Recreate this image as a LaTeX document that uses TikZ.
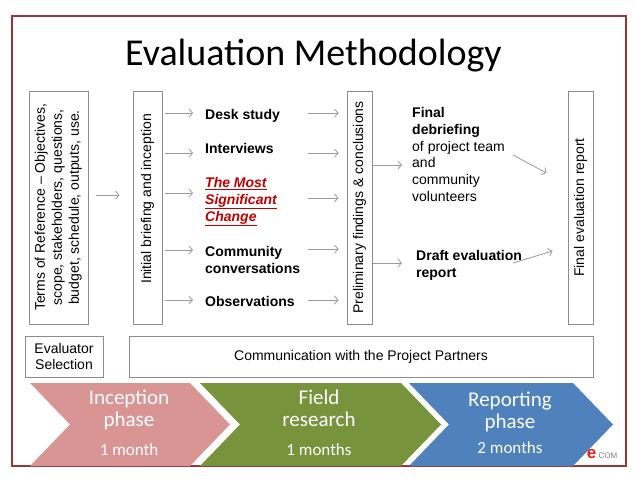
\documentclass[tikz,border=0pt]{standalone}
\usepackage{fontspec}
\setmainfont{Liberation Sans}
\newfontfamily\calfont{Carlito}
\usetikzlibrary{arrows.meta}
\definecolor{framered}{HTML}{953735}
\definecolor{boxgray}{HTML}{8C8C8C}
\definecolor{arrgray}{HTML}{9A9A9A}
\definecolor{msccol}{HTML}{C00000}
\definecolor{pinkc}{HTML}{D99594}
\definecolor{greenc}{HTML}{77933C}
\definecolor{bluec}{HTML}{4F81BD}
\definecolor{logored}{HTML}{E2231A}
\begin{document}
\begin{tikzpicture}[x=1pt,y=-1pt,
  box/.style={draw=boxgray, line width=1pt, inner sep=0pt, font=\fontsize{14}{17}\selectfont, align=center},
  txt/.style={font=\fontsize{14}{16.8}\selectfont, inner sep=0pt, align=left, anchor=base west},
  act/.style={txt, font=\fontsize{14}{16.8}\selectfont\bfseries},
  arr/.style={draw=arrgray, line width=0.8pt, -{Straight Barb[length=3.5pt,width=8pt]}},
  phasetxt/.style={font=\calfont\fontsize{21}{22}\selectfont, text=white, align=center, inner sep=0pt, anchor=base},
  monthtxt/.style={font=\calfont\fontsize{17}{18}\selectfont, text=white, inner sep=0pt, anchor=base}
]
\useasboundingbox (0,0) rectangle (638,479);
\fill[white] (0,0) rectangle (638,479);
\draw[framered, line width=2pt] (12,16) rectangle (626,466);

\node[font=\calfont\fontsize{38}{40}\selectfont, anchor=base, inner sep=0pt] (title) at (313.5,65) {Evaluation Methodology};

% vertical boxes
\node[box, minimum width=59, minimum height=233] (tor) at (58.5,207.5)
  {\rotatebox{90}{\begin{tabular}{@{}c@{}}Terms of Reference -- Objectives,\\scope, stakeholders, questions,\\budget, schedule, outputs, use.\end{tabular}}};
\node[box, minimum width=29, minimum height=233] (init) at (147.5,207.5)
  {\rotatebox{90}{\hspace*{17pt}Initial briefing and inception}};
\node[box, minimum width=25, minimum height=233] (prelim) at (359.5,207.5)
  {\rotatebox{90}{Preliminary findings \& conclusions}};
\node[box, minimum width=25, minimum height=233] (final) at (580.5,207.5)
  {\rotatebox{90}{Final evaluation report}};

% activities (base = baseline of last line)
\node[act] (desk) at (205,119.5) {Desk study};
\node[act] (interv) at (205,153.5) {Interviews};
\node[act, text=msccol, font=\fontsize{14}{16.8}\selectfont\bfseries\itshape] (msc) at (205,221.1)
  {\underline{The Most}\\\underline{Significant}\\\underline{Change}};
\node[act] (comm) at (205,273.3) {Community\\conversations};
\node[act] (obs) at (205,306.5) {Observations};

% outcomes
\node[txt] (debrief) at (412,201.5) {\textbf{Final}\\\textbf{debriefing}\\of project team\\and\\community\\volunteers};
\node[act] (draft) at (416,277.3) {Draft evaluation\\report};

% arrows
\draw[arr] ([xshift=7pt,yshift=12.5pt]tor.east) -- ([xshift=-13pt,yshift=12.5pt]init.west);

\draw[arr] ([xshift=2pt,yshift=94.5pt]init.east) -- ([xshift=-12pt,yshift=6.5pt]desk.base west);
\draw[arr] ([xshift=2pt,yshift=54.5pt]init.east) -- ([xshift=-12pt,yshift=0.5pt]interv.base west);
\draw[arr] ([xshift=2pt,yshift=14.5pt]init.east) -- ([xshift=-12pt,yshift=28.1pt]msc.base west);
\draw[arr] ([xshift=2pt,yshift=-42.5pt]init.east) -- ([xshift=-12pt,yshift=23.3pt]comm.base west);
\draw[arr] ([xshift=2pt,yshift=-92.5pt]init.east) -- ([xshift=-12pt,yshift=6.5pt]obs.base west);

\draw[arr] ([xshift=103pt,yshift=6.5pt]desk.base west) -- ([xshift=-8pt,yshift=94.5pt]prelim.west);
\draw[arr] ([xshift=103pt,yshift=0.5pt]interv.base west) -- ([xshift=-8pt,yshift=54.5pt]prelim.west);
\draw[arr] ([xshift=103pt,yshift=23.1pt]msc.base west) -- ([xshift=-8pt,yshift=9.5pt]prelim.west);
\draw[arr] ([xshift=103pt,yshift=24.3pt]comm.base west) -- ([xshift=-8pt,yshift=-41.5pt]prelim.west);
\draw[arr] ([xshift=103pt,yshift=6.5pt]obs.base west) -- ([xshift=-8pt,yshift=-92.5pt]prelim.west);

\draw[arr] ([yshift=42.5pt]prelim.east) -- ([xshift=-10pt,yshift=36.5pt]debrief.base west);
\draw[arr] ([yshift=-55.5pt]prelim.east) -- ([xshift=-14pt,yshift=14.3pt]draft.base west);

\draw[arr] ([xshift=101pt,yshift=46.5pt]debrief.base west) -- ([xshift=-21pt,yshift=34.5pt]final.west);
\draw[arr] ([xshift=97pt,yshift=14.3pt]draft.base west) -- ([xshift=-15pt,yshift=-43.5pt]final.west);

% lower boxes
\node[box, minimum width=78, minimum height=41, font=\fontsize{14}{16}\selectfont] (evalsel) at (64,356.5) {Evaluator\\Selection};
\node[box, minimum width=464, minimum height=41] (partners) at (361,356.5) {Communication with the Project Partners};

% chevrons
\fill[pinkc]  (30,383) -- (190,383) -- (230,424.5) -- (190,466) -- (30,466) -- (70,424.5) -- cycle;
\fill[greenc] (200,383) -- (401,383) -- (441,424.5) -- (401,466) -- (200,466) -- (240,424.5) -- cycle;
\fill[bluec]  (409,383) -- (573,383) -- (613,424.5) -- (573,466) -- (409,466) -- (449,424.5) -- cycle;

\node[phasetxt] (ph1) at (129,426) {Inception\\phase};
\node[monthtxt] (mo1) at (129,455) {1 month};
\node[phasetxt] (ph2) at (319,426) {Field\\research};
\node[monthtxt] (mo2) at (319,455) {1 months};
\node[phasetxt] (ph3) at (510,428) {Reporting\\phase};
\node[monthtxt] (mo3) at (510,453) {2 months};

% logo
\node[font=\bfseries\fontsize{17}{17}\selectfont, text=logored, inner sep=0pt, anchor=base] (logoe) at (591.5,458.5) {e};
\node[font=\fontsize{8}{8}\selectfont, text=gray, inner sep=0pt, anchor=base west] (logocom) at (598.5,458) {COM};
\end{tikzpicture}
\end{document}
